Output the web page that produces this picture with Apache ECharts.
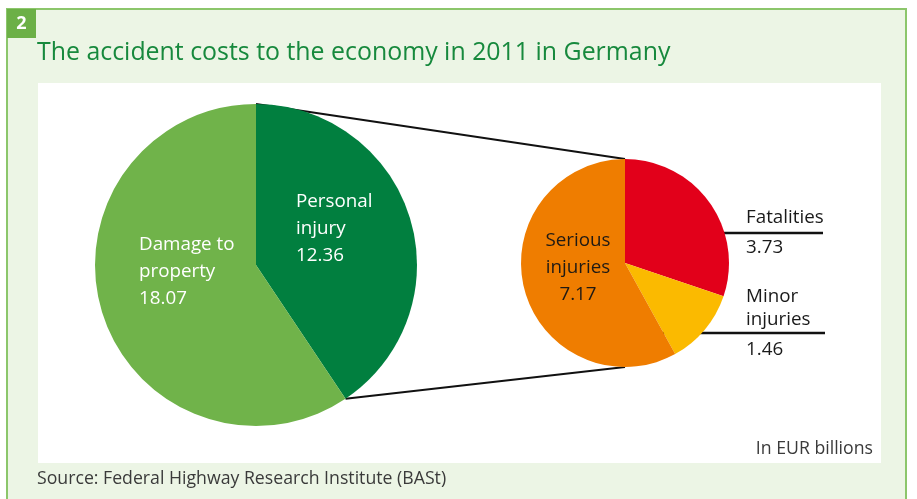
<!DOCTYPE html>
<html>
<head>
<meta charset="utf-8">
<script src="https://cdn.jsdelivr.net/npm/echarts@6/dist/echarts.min.js"></script>
<style>
  html, body { margin: 0; padding: 0; background: #ffffff; }
  #chart { width: 917px; height: 499px; }
</style>
</head>
<body>
<div id="chart"></div>
<script>
// Accident costs in Germany, 2011 (EUR billions)
const totalLabels = ['Personal\ninjury', 'Damage to\nproperty'];
const totalValues = [12.36, 18.07];
const injuryLabels = ['Fatalities', 'Minor\ninjuries', 'Serious\ninjuries'];
const injuryValues = [3.73, 1.46, 7.17];

const FONT = '"Open Sans", "Noto Sans", sans-serif';
const C = {
  frame: '#8cc66b', pale: '#ecf5e5', badge: '#6cb047', title: '#17893d',
  light: '#70b34a', dark: '#017f3f', red: '#e2001a', yellow: '#fbba00', orange: '#ef7d00'
};

// Pie geometry
const big = { cx: 256, cy: 265, r: 161 };
const small = { cx: 625, cy: 263, r: 104 };

const sum = a => a.reduce((s, v) => s + v, 0);
// angle measured clockwise from 12 o'clock
function edgePoint(p, frac) {
  const a = frac * 2 * Math.PI;
  return [p.cx + p.r * Math.sin(a), p.cy - p.r * Math.cos(a)];
}
const personalEnd = edgePoint(big, totalValues[0] / sum(totalValues));

const chart = echarts.init(document.getElementById('chart'), null, { renderer: 'canvas' });

function txt(x, y, text, opts) {
  return {
    type: 'text', x: x, y: y, z: 100,
    style: Object.assign({ text: text, font: '18.8px ' + FONT, fill: '#1a1a1a', lineHeight: 27 }, opts || {})
  };
}

const graphic = [
  // frame
  { type: 'rect', shape: { x: 7, y: 9, width: 899, height: 495 }, style: { fill: C.pale, stroke: C.frame, lineWidth: 2 } },
  { type: 'rect', shape: { x: 38, y: 83, width: 843, height: 380 }, style: { fill: '#ffffff' } },
  { type: 'rect', shape: { x: 7, y: 9, width: 29, height: 29 }, style: { fill: C.badge } },
  txt(21.5, 24, '2', { font: 'bold 18px ' + FONT, fill: '#ffffff', align: 'center', verticalAlign: 'middle' }),
  txt(37, 53, 'The accident costs to the economy in 2011 in Germany', { font: '24.9px ' + FONT, fill: C.title, verticalAlign: 'middle' }),
  txt(37, 479, 'Source: Federal Highway Research Institute (BASt)', { font: '17.7px ' + FONT, fill: '#3a3a3a', verticalAlign: 'middle' }),
  txt(873, 449, 'In EUR billions', { font: '17.7px ' + FONT, fill: '#3a3a3a', align: 'right', verticalAlign: 'middle' }),
  // connectors between the two pies
  { type: 'line', shape: { x1: big.cx, y1: big.cy - big.r, x2: small.cx, y2: small.cy - small.r }, style: { stroke: '#111', lineWidth: 2 } },
  { type: 'line', shape: { x1: personalEnd[0], y1: personalEnd[1], x2: small.cx, y2: small.cy + small.r }, style: { stroke: '#111', lineWidth: 2 } },
  // leader lines for the outside labels
  { type: 'line', shape: { x1: small.cx, y1: 233, x2: 823, y2: 233 }, style: { stroke: '#111', lineWidth: 2.5 } },
  { type: 'line', shape: { x1: small.cx, y1: 333, x2: 825, y2: 333 }, style: { stroke: '#111', lineWidth: 2.5 } },
  // labels inside the pies
  txt(296, 229, totalLabels[0] + '\n' + totalValues[0].toFixed(2), { fill: '#ffffff', verticalAlign: 'middle' }),
  txt(139, 272, totalLabels[1] + '\n' + totalValues[1].toFixed(2), { fill: '#ffffff', verticalAlign: 'middle' }),
  txt(578, 268, injuryLabels[2] + '\n' + injuryValues[2].toFixed(2), { fill: '#1f1a14', align: 'center', verticalAlign: 'middle' }),
  // outside labels
  txt(746, 218, injuryLabels[0], { verticalAlign: 'middle' }),
  txt(746, 248, injuryValues[0].toFixed(2), { verticalAlign: 'middle' }),
  txt(746, 308, injuryLabels[1], { verticalAlign: 'middle', lineHeight: 23 }),
  txt(746, 350, injuryValues[1].toFixed(2), { verticalAlign: 'middle' })
];

const pieBase = {
  type: 'pie', startAngle: 90, clockwise: true, animation: false, silent: true,
  label: { show: false }, labelLine: { show: false },
  itemStyle: { borderWidth: 0 }, emphasis: { disabled: true }
};

chart.setOption({
  animation: false,
  graphic: graphic,
  series: [
    Object.assign({}, pieBase, {
      center: [big.cx, big.cy], radius: big.r,
      data: totalValues.map((v, i) => ({ name: totalLabels[i], value: v, itemStyle: { color: [C.dark, C.light][i] } }))
    }),
    Object.assign({}, pieBase, {
      center: [small.cx, small.cy], radius: small.r,
      data: injuryValues.map((v, i) => ({ name: injuryLabels[i], value: v, itemStyle: { color: [C.red, C.yellow, C.orange][i] } }))
    })
  ]
});
</script>
</body>
</html>
